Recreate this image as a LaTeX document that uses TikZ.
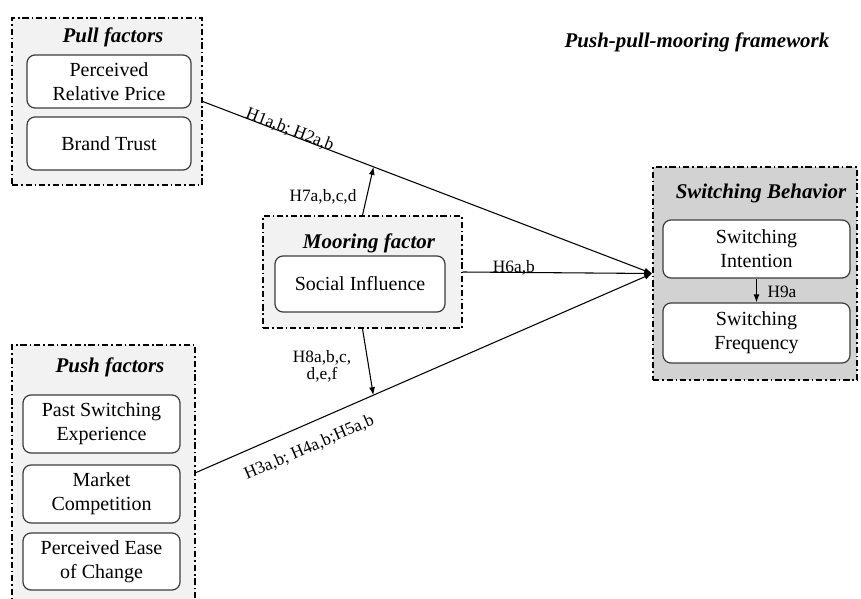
\documentclass[tikz,border=0pt]{standalone}
\usepackage{fontspec}
\setmainfont{Liberation Serif}
\usetikzlibrary{arrows.meta}
\definecolor{lightfill}{RGB}{242,242,242}
\definecolor{darkfill}{RGB}{210,210,210}
\definecolor{innerline}{RGB}{60,60,60}
\begin{document}
\begin{tikzpicture}[x=0.75pt,y=-0.75pt,
  outerbox/.style={draw=black, line width=1.1pt,
    dash pattern=on 4.6pt off 2.2pt on 1.2pt off 2.2pt, inner sep=0pt},
  lightbox/.style={outerbox, fill=lightfill},
  darkbox/.style={outerbox, fill=darkfill},
  innerbox/.style={draw=innerline, fill=white, line width=0.9pt, rounded corners=6pt,
    align=center, inner sep=0pt, font=\fontsize{15pt}{18pt}\selectfont},
  grouptitle/.style={font=\fontsize{15.7pt}{18pt}\selectfont\bfseries\itshape, inner sep=0pt},
  hlabel/.style={font=\fontsize{13pt}{13pt}\selectfont, inner sep=0pt, align=center},
  conn/.style={draw=black, line width=0.8pt},
  arr/.style={conn, -{Latex[length=6pt,width=4.5pt]}}
]
\clip (0,0) rectangle (861,599);
\fill[white] (0,0) rectangle (861,599);

% outer group boxes
\node[lightbox, minimum width=142.5pt, minimum height=125.25pt] (pull) at (107,101.5) {};
\node[lightbox, minimum width=149.25pt, minimum height=84pt] (moor) at (362.5,272) {};
\node[darkbox, minimum width=153pt, minimum height=159.75pt] (sw) at (755,273.5) {};
\node[lightbox, minimum width=137.25pt, minimum height=236.25pt] (push) at (103.5,502.5) {};

% titles
\node[grouptitle] (tpull) at (113,37) {Pull factors};
\node[grouptitle] (tmoor) at (369,243) {Mooring factor};
\node[grouptitle] (tsw) at (761,193) {Switching Behavior};
\node[grouptitle] (tpush) at (110,367) {Push factors};
\node[grouptitle] (tframe) at (697,42) {Push-pull-mooring framework};

% inner boxes
\node[innerbox, minimum width=123pt, minimum height=39.75pt] (prp) at (109,81.5) {Perceived\\Relative Price};
\node[innerbox, minimum width=123pt, minimum height=39.75pt] (bt) at (109,143.5) {Brand Trust};
\node[innerbox, minimum width=127.5pt, minimum height=42pt] (si) at (360,284) {Social Influence};
\node[innerbox, minimum width=140.25pt, minimum height=43.5pt] (swi) at (756.5,249) {Switching\\Intention};
\node[innerbox, minimum width=140.25pt, minimum height=45pt] (swf) at (756.5,333) {Switching\\Frequency};
\node[innerbox, minimum width=117.75pt, minimum height=43.5pt] (pse) at (101.5,424) {Past Switching\\Experience};
\node[innerbox, minimum width=117.75pt, minimum height=43.5pt] (mc) at (101.5,494) {Market\\Competition};
\node[innerbox, minimum width=117.75pt, minimum height=42.75pt] (pec) at (101.5,561.5) {Perceived Ease\\of Change};

% connectors
\coordinate (pushout) at (195,473);
\draw[arr] (pull.east) -- (sw.west)
  node[hlabel, sloped, pos=0.19, anchor=base] (l12) {H1a,b; H2a,b}
  coordinate[pos=0.38] (h7end);
\draw[arr] (pushout) -- (sw.west)
  node[hlabel, sloped, pos=0.23, below=11pt] (l345) {H3a,b; H4a,b;H5a,b}
  coordinate[pos=0.39] (h8end);
\draw[arr] (moor.east) -- (sw.west)
  node[hlabel, pos=0.27, anchor=base] (l6) {H6a,b};
\draw[arr] (moor.north) -- (h7end);
\draw[arr] (moor.south) -- (h8end);
\draw[arr] (swi.south) -- (swf.north);

% labels
\node[hlabel] (l7) at (323,197) {H7a,b,c,d};
\node[hlabel] (l8) at (322,366) {H8a,b,c,\\d,e,f};
\node[hlabel] (l9) at (782,292) {H9a};
\end{tikzpicture}
\end{document}
